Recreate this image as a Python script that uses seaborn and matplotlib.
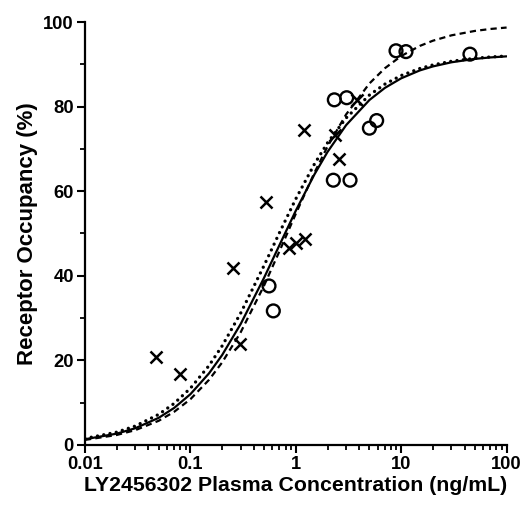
import numpy as np
import pandas as pd
import seaborn as sns
import matplotlib.pyplot as plt
from matplotlib.ticker import LogLocator, FixedLocator, NullFormatter

conc = [0.01, 0.02, 0.03, 0.05, 0.07, 0.1, 0.15, 0.2, 0.3, 0.5, 0.7, 1, 1.5, 2,
        3, 5, 7, 10, 15, 20, 30, 50, 70, 100]
fit_solid = [1.36, 2.68, 3.96, 6.42, 8.75, 12.01, 16.92, 21.26, 28.61, 39.53,
             47.26, 55.39, 63.94, 69.29, 75.61, 81.57, 84.42, 86.69, 88.55,
             89.5, 90.48, 91.28, 91.62, 91.88]
fit_dotted = [1.54, 3.03, 4.48, 7.23, 9.81, 13.41, 18.75, 23.42, 31.18, 42.43,
              50.19, 58.18, 66.39, 71.43, 77.3, 82.74, 85.31, 87.35, 89.0,
              89.85, 90.72, 91.42, 91.73, 91.96]
fit_dashed = [1.2, 2.37, 3.51, 5.72, 7.83, 10.82, 15.39, 19.51, 26.65, 37.69,
              45.82, 54.67, 64.33, 70.57, 78.14, 85.48, 89.07, 91.96, 94.34,
              95.58, 96.85, 97.89, 98.35, 98.69]

# observed points
cross_conc = [0.047, 0.080, 0.255, 0.518, 0.296, 0.868, 1.0, 1.22, 1.2, 2.35, 2.59, 3.78]
cross_ro = [20.8, 16.9, 41.8, 57.5, 23.9, 46.6, 47.7, 48.6, 74.5, 73.3, 67.5, 81.6]
circle_conc = [0.557, 0.612, 2.32, 3.04, 2.27, 3.27, 4.99, 5.85, 8.93, 11.1, 44.9]
circle_ro = [37.6, 31.7, 81.6, 82.1, 62.6, 62.6, 74.9, 76.7, 93.2, 93.0, 92.4]

sns.set_style("ticks")
plt.rcParams['font.family'] = ['Liberation Sans', 'DejaVu Sans']
plt.rcParams['font.weight'] = 'bold'
plt.rcParams['text.color'] = 'black'
plt.rcParams['axes.labelcolor'] = 'black'

fig = plt.figure(figsize=(5.24, 5.07), dpi=100)
ax = fig.add_axes([0.1622, 0.1223, 0.8046, 0.8343])

curves = pd.DataFrame({'conc': conc, 'solid': fit_solid,
                       'dotted': fit_dotted, 'dashed': fit_dashed})

sns.lineplot(data=curves, x='conc', y='solid', ax=ax, color='black', lw=1.6)
sns.lineplot(data=curves, x='conc', y='dashed', ax=ax, color='black', lw=1.6,
             linestyle=(0, (2.8, 1.9)))
sns.lineplot(data=curves, x='conc', y='dotted', ax=ax, color='black', lw=2.4,
             linestyle=(0, (0.01, 1.9)), dash_capstyle='round')

sns.scatterplot(x=cross_conc, y=cross_ro, ax=ax, marker='x', color='black',
                s=75, linewidth=1.8, zorder=5)
sns.scatterplot(x=circle_conc, y=circle_ro, ax=ax, marker='o', s=85,
                facecolor='none', edgecolor='black', linewidth=1.7, zorder=5)

ax.set_xscale('log')
ax.set_xlim(0.01, 100)
ax.set_ylim(0, 100)
ax.set_xticks([0.01, 0.1, 1, 10, 100])
ax.set_xticklabels(['0.01', '0.1', '1', '10', '100'])
ax.xaxis.set_minor_locator(LogLocator(base=10, subs=np.arange(2, 10)))
ax.xaxis.set_minor_formatter(NullFormatter())
ax.set_yticks([0, 20, 40, 60, 80, 100])
ax.yaxis.set_minor_locator(FixedLocator([10, 30, 50, 70, 90]))

ax.tick_params(which='major', length=6, width=1.5, labelsize=13.2, pad=2,
               color='black', labelcolor='black')
ax.tick_params(which='minor', length=3.5, width=1.3, color='black')
for s in ['left', 'bottom']:
    ax.spines[s].set_linewidth(1.6)
    ax.spines[s].set_color('black')
sns.despine(ax=ax)

ax.set_xlabel('LY2456302 Plasma Concentration (ng/mL)', fontsize=15.3,
              fontweight='bold', labelpad=2)
ax.set_ylabel('Receptor Occupancy (%)', fontsize=16, fontweight='bold',
              labelpad=4)

fig.savefig('out.png', dpi=100)
